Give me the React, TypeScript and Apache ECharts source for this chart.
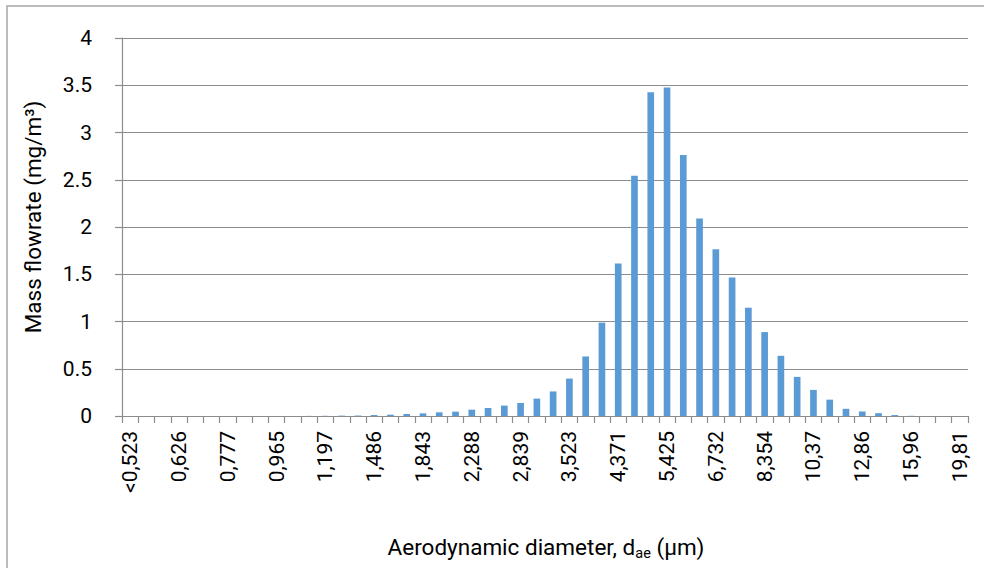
import React, { useEffect, useRef } from "react";
import * as echarts from "echarts";

const categories = [
  "<0,523", "0,542", "0,583", "0,626", "0,673", "0,723", "0,777", "0,835", "0,898", "0,965",
  "1,037", "1,114", "1,197", "1,286", "1,382", "1,486", "1,596", "1,715", "1,843", "1,981",
  "2,129", "2,288", "2,458", "2,642", "2,839", "3,051", "3,278", "3,523", "3,786", "4,068",
  "4,371", "4,698", "5,048", "5,425", "5,829", "6,264", "6,732", "7,234", "7,774", "8,354",
  "8,977", "9,647", "10,37", "11,14", "11,97", "12,86", "13,82", "14,86", "15,96", "17,15",
  "18,43", "19,81",
];

const massFlowrate = [
  0, 0, 0, 0, 0, 0, 0, 0, 0, 0,
  0, 0.001, 0.002, 0.004, 0.005, 0.01, 0.014, 0.021, 0.028, 0.039,
  0.046, 0.067, 0.085, 0.11, 0.138, 0.184, 0.26, 0.396, 0.63, 0.988,
  1.613, 2.542, 3.426, 3.475, 2.762, 2.09, 1.765, 1.466, 1.146, 0.888,
  0.637, 0.414, 0.276, 0.173, 0.076, 0.048, 0.03, 0.01, 0.002, 0,
  0, 0,
];

const yTitle = "Mass flowrate (mg/m³)";
const xTitleMain = "Aerodynamic diameter, d";
const xTitleSub = "ae";
const xTitleEnd = " (µm)";

const FONT = "Roboto, 'Noto Sans', sans-serif";

export default function App() {
  const ref = useRef<HTMLDivElement>(null);
  useEffect(() => {
    if (!ref.current) return;
    const chart = echarts.init(ref.current, null, { renderer: "svg" });
    chart.setOption({
      animation: false,
      backgroundColor: "#ffffff",
      textStyle: { fontFamily: FONT },
      grid: { left: 122, right: 16, top: 38, bottom: 152, containLabel: false },
      xAxis: {
        type: "category",
        data: categories,
        boundaryGap: true,
        axisLine: { show: true, lineStyle: { color: "#8c8c8c", width: 1.2 } },
        axisTick: { show: true, interval: 0, length: 7, lineStyle: { color: "#8c8c8c", width: 1.2 } },
        axisLabel: {
          interval: 2,
          rotate: 90,
          margin: 15,
          color: "#000000",
          fontSize: 21,
          fontFamily: FONT,
        },
        splitLine: { show: false },
      },
      yAxis: {
        type: "value",
        min: 0,
        max: 4,
        interval: 0.5,
        axisLine: { show: true, lineStyle: { color: "#8c8c8c", width: 1.2 } },
        axisTick: { show: true, length: 7, lineStyle: { color: "#8c8c8c", width: 1.2 } },
        axisLabel: { margin: 30, color: "#000000", fontSize: 21, fontFamily: FONT },
        splitLine: { show: true, lineStyle: { color: "#8c8c8c", width: 1.2 } },
      },
      series: [
        {
          type: "bar",
          data: massFlowrate,
          barCategoryGap: "59%",
          itemStyle: { color: "#5B9BD5" },
        },
      ],
      graphic: [
        {
          type: "rect",
          silent: true,
          shape: { x: 7, y: 6, width: 1100, height: 700 },
          style: { fill: "none", stroke: "#a6a6a6", lineWidth: 1.5 },
        },
        {
          type: "text",
          x: 33,
          y: 217,
          rotation: Math.PI / 2,
          style: {
            text: yTitle,
            font: `22.5px ${FONT}`,
            fill: "#000000",
            textAlign: "center",
            textVerticalAlign: "middle",
          },
        },
        {
          type: "text",
          x: 546,
          y: 547,
          style: {
            text: `{a|${xTitleMain}}{s|${xTitleSub}}{a|${xTitleEnd}}`,
            fill: "#000000",
            textAlign: "center",
            textVerticalAlign: "middle",
            rich: {
              a: { fontSize: 22.5, fontFamily: FONT, lineHeight: 28, fill: "#000000" },
              s: { fontSize: 14.5, fontFamily: FONT, lineHeight: 14, verticalAlign: "bottom", fill: "#000000" },
            },
          },
        },
      ],
    });
    return () => chart.dispose();
  }, []);
  return (
    <div
      ref={ref}
      style={{ position: "absolute", left: 0, top: 0, width: 984, height: 568 }}
    />
  );
}
